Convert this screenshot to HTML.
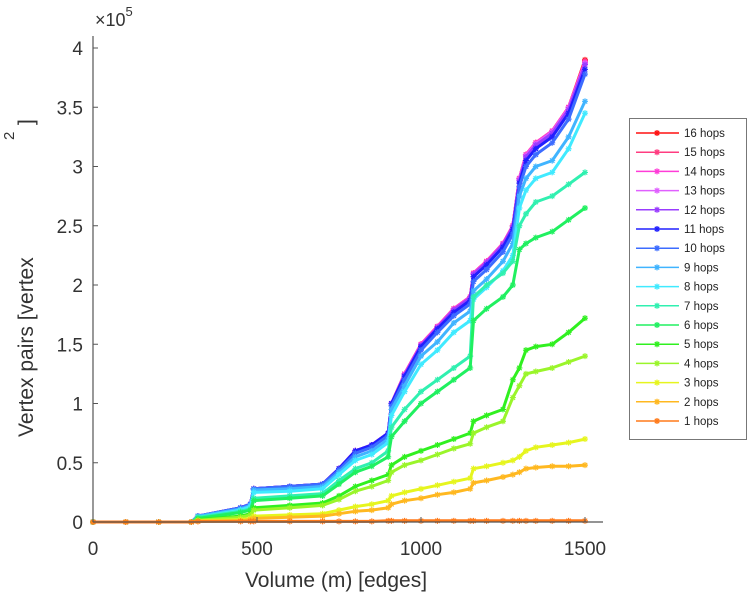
<!DOCTYPE html>
<html><head><meta charset="utf-8"><style>
body{margin:0;background:#fff;}
svg{display:block;font-family:"Liberation Sans",sans-serif;}
</style></head><body>
<svg id="chart" width="749" height="600" viewBox="0 0 749 600" xmlns="http://www.w3.org/2000/svg">
<g id="series"></g>
<g id="axes"></g>
<text x="95" y="26" font-size="18" fill="#333">×10<tspan dy="-10" font-size="13">5</tspan></text>
<g fill="#333" font-size="21">
<text transform="translate(33,437) rotate(-90)">Vertex pairs [vertex</text>
<text transform="translate(14,140) rotate(-90)" font-size="15">2</text>
<text transform="translate(33,125) rotate(-90)">]</text>
</g>
<text x="336" y="587" font-size="21" fill="#333" text-anchor="middle">Volume (m) [edges]</text>
<g id="legend"></g>
</svg>
<script>
const xs = [0,100,200,300,320,450,480,490,600,700,750,800,850,900,910,950,1000,1050,1100,1150,1160,1200,1250,1280,1300,1320,1350,1400,1450,1500];
const h16 = [0,0,0,0,0.05,0.12,0.15,0.28,0.3,0.32,0.45,0.6,0.65,0.75,1.0,1.25,1.5,1.65,1.8,1.9,2.1,2.2,2.35,2.5,2.9,3.1,3.2,3.3,3.5,3.9];
const h15 = [0,0,0,0,0.05,0.12,0.15,0.28,0.3,0.32,0.45,0.6,0.65,0.75,1.0,1.25,1.5,1.65,1.8,1.9,2.1,2.2,2.35,2.5,2.9,3.1,3.2,3.3,3.5,3.89];
const h14 = [0,0,0,0,0.05,0.12,0.15,0.28,0.3,0.32,0.45,0.6,0.65,0.75,1.0,1.25,1.5,1.65,1.8,1.9,2.1,2.2,2.35,2.5,2.9,3.1,3.2,3.3,3.5,3.88];
const h13 = [0,0,0,0,0.05,0.12,0.15,0.28,0.3,0.32,0.45,0.6,0.65,0.75,1.0,1.24,1.49,1.64,1.79,1.89,2.09,2.19,2.34,2.49,2.89,3.09,3.19,3.29,3.49,3.87];
const h12 = [0,0,0,0,0.05,0.12,0.15,0.28,0.3,0.32,0.45,0.6,0.65,0.75,1.0,1.24,1.49,1.64,1.79,1.89,2.09,2.19,2.34,2.49,2.88,3.08,3.18,3.28,3.48,3.86];
const h11 = [0,0,0,0,0.05,0.12,0.15,0.28,0.3,0.32,0.45,0.6,0.65,0.75,1.0,1.23,1.48,1.63,1.77,1.87,2.07,2.17,2.32,2.47,2.86,3.05,3.15,3.25,3.45,3.82];
const h10 = [0,0,0,0,0.05,0.12,0.15,0.28,0.3,0.32,0.44,0.58,0.63,0.73,0.98,1.2,1.45,1.6,1.74,1.84,2.03,2.13,2.28,2.43,2.83,3.0,3.1,3.2,3.4,3.78];
const h9 = [0,0,0,0,0.05,0.11,0.14,0.27,0.28,0.3,0.42,0.55,0.6,0.7,0.95,1.15,1.4,1.52,1.68,1.78,1.95,2.05,2.2,2.35,2.75,2.9,3.0,3.05,3.25,3.55];
const h8 = [0,0,0,0,0.04,0.1,0.13,0.25,0.26,0.28,0.4,0.52,0.57,0.67,0.9,1.1,1.33,1.45,1.6,1.7,1.88,1.98,2.12,2.25,2.65,2.8,2.9,2.95,3.15,3.45];
const h7 = [0,0,0,0,0.04,0.09,0.11,0.2,0.22,0.24,0.35,0.45,0.5,0.6,0.8,0.95,1.1,1.2,1.3,1.4,1.9,2.0,2.1,2.2,2.5,2.6,2.7,2.75,2.85,2.95];
const h6 = [0,0,0,0,0.03,0.08,0.1,0.18,0.2,0.22,0.32,0.42,0.47,0.55,0.72,0.85,1.0,1.1,1.2,1.3,1.7,1.8,1.9,2.0,2.3,2.35,2.4,2.45,2.55,2.65];
const h5 = [0,0,0,0,0.02,0.05,0.07,0.12,0.14,0.16,0.22,0.3,0.35,0.4,0.48,0.55,0.6,0.65,0.7,0.75,0.85,0.9,0.95,1.2,1.3,1.45,1.48,1.5,1.6,1.72];
const h4 = [0,0,0,0,0.015,0.04,0.06,0.1,0.12,0.14,0.19,0.26,0.3,0.35,0.42,0.48,0.52,0.57,0.62,0.66,0.75,0.8,0.85,1.05,1.15,1.25,1.27,1.3,1.35,1.4];
const h3 = [0,0,0,0,0.01,0.02,0.03,0.05,0.06,0.07,0.1,0.13,0.15,0.18,0.22,0.25,0.28,0.31,0.34,0.37,0.45,0.47,0.5,0.52,0.55,0.6,0.63,0.65,0.67,0.7];
const h2 = [0,0,0,0,0.005,0.01,0.02,0.03,0.04,0.05,0.07,0.09,0.1,0.12,0.15,0.18,0.2,0.23,0.25,0.28,0.33,0.35,0.38,0.4,0.42,0.45,0.46,0.47,0.47,0.48];
const h1 = [0,0,0,0,0.005,0.005,0.005,0.005,0.005,0.005,0.005,0.005,0.005,0.01,0.01,0.01,0.01,0.01,0.01,0.01,0.01,0.01,0.01,0.01,0.01,0.01,0.01,0.01,0.01,0.01];
const seriesNames = ["1 hops","2 hops","3 hops","4 hops","5 hops","6 hops","7 hops","8 hops","9 hops","10 hops","11 hops","12 hops","13 hops","14 hops","15 hops","16 hops"];
const seriesData = [h1,h2,h3,h4,h5,h6,h7,h8,h9,h10,h11,h12,h13,h14,h15,h16];
const colors = ["#ff7a1a","#ffb820","#e6f51e","#9af52a","#30f020","#20f060","#30f0b0","#40eaff","#40b4ff","#3c6cff","#2020ff","#9a3cff","#e060ff","#ff3cd8","#ff3c80","#ff1010"];
const xTicks = [0,500,1000,1500];
const yTicks = [0,0.5,1,1.5,2,2.5,3,3.5,4];
const yTickLabels = ["0","0.5","1","1.5","2","2.5","3","3.5","4"];

const NS = "http://www.w3.org/2000/svg";
const X0=93, XPX=492/1500, Y0=522, YPX=118.5;
const sx = v => X0 + v*XPX;
const sy = v => Y0 - v*YPX;
function mk(tag, attrs, parent){const e=document.createElementNS(NS,tag);for(const k in attrs)e.setAttribute(k,attrs[k]);parent.appendChild(e);return e;}

const sg = document.getElementById('series');
for(let i=seriesData.length-1;i>=0;i--){
  const d=seriesData[i];
  const pts = d.map((v,j)=>sx(xs[j]).toFixed(1)+","+sy(v).toFixed(1)).join(" ");
  const pl = mk('polyline',{points:pts,fill:'none',stroke:colors[i],'stroke-width':3,'stroke-linejoin':'round'},sg);
  
  
  d.forEach((v,j)=>{
    const cx=sx(xs[j]), cy=sy(v);
    const m = mk('path',{d:`M${cx-3},${cy}h6M${cx},${cy-3}v6M${cx-2.2},${cy-2.2}l4.4,4.4M${cx-2.2},${cy+2.2}l4.4,-4.4`,stroke:colors[i],'stroke-width':1.2},sg);
    
    
  });
}

const ax = document.getElementById('axes');
let l = mk('line',{x1:93,y1:36,x2:93,y2:522,stroke:'#555','stroke-width':1.2},ax);


l = mk('line',{x1:93,y1:522,x2:603,y2:522,stroke:'#555','stroke-width':1.2},ax);


yTicks.forEach((t,i)=>{
  const y=sy(t);
  const tk=mk('line',{x1:93,y1:y,x2:98,y2:y,stroke:'#555'},ax);
  
  
  const tx=mk('text',{x:83,y:y+7,'text-anchor':'end','font-size':19,fill:'#333'},ax);
  tx.textContent=yTickLabels[i];
  
  
});
xTicks.forEach(t=>{
  const x=sx(t);
  const tk=mk('line',{x1:x,y1:522,x2:x,y2:517,stroke:'#555'},ax);
  
  
  const tx=mk('text',{x:x,y:555,'text-anchor':'middle','font-size':19,fill:'#333'},ax);
  tx.textContent=String(t);
  
  
});

const lg = document.getElementById('legend');
const box = mk('rect',{x:629.5,y:118.5,width:117,height:321,fill:'#fff',stroke:'#777','stroke-width':1},lg);


for(let k=0;k<16;k++){
  const i=15-k, y=133+k*19.2;
  const g=mk('g',{},lg);
  
  
  mk('line',{x1:636,y1:y,x2:679,y2:y,stroke:colors[i],'stroke-width':1.5},g);
  mk('path',{d:`M${654},${y}h6M${657},${y-3}v6M${654.8},${y-2.2}l4.4,4.4M${654.8},${y+2.2}l4.4,-4.4`,stroke:colors[i],'stroke-width':1.3},g);
  const t=mk('text',{x:684,y:y+4,'font-size':11.5,fill:'#222'},g);
  t.textContent=seriesNames[i];
}
</script>
</body></html>
